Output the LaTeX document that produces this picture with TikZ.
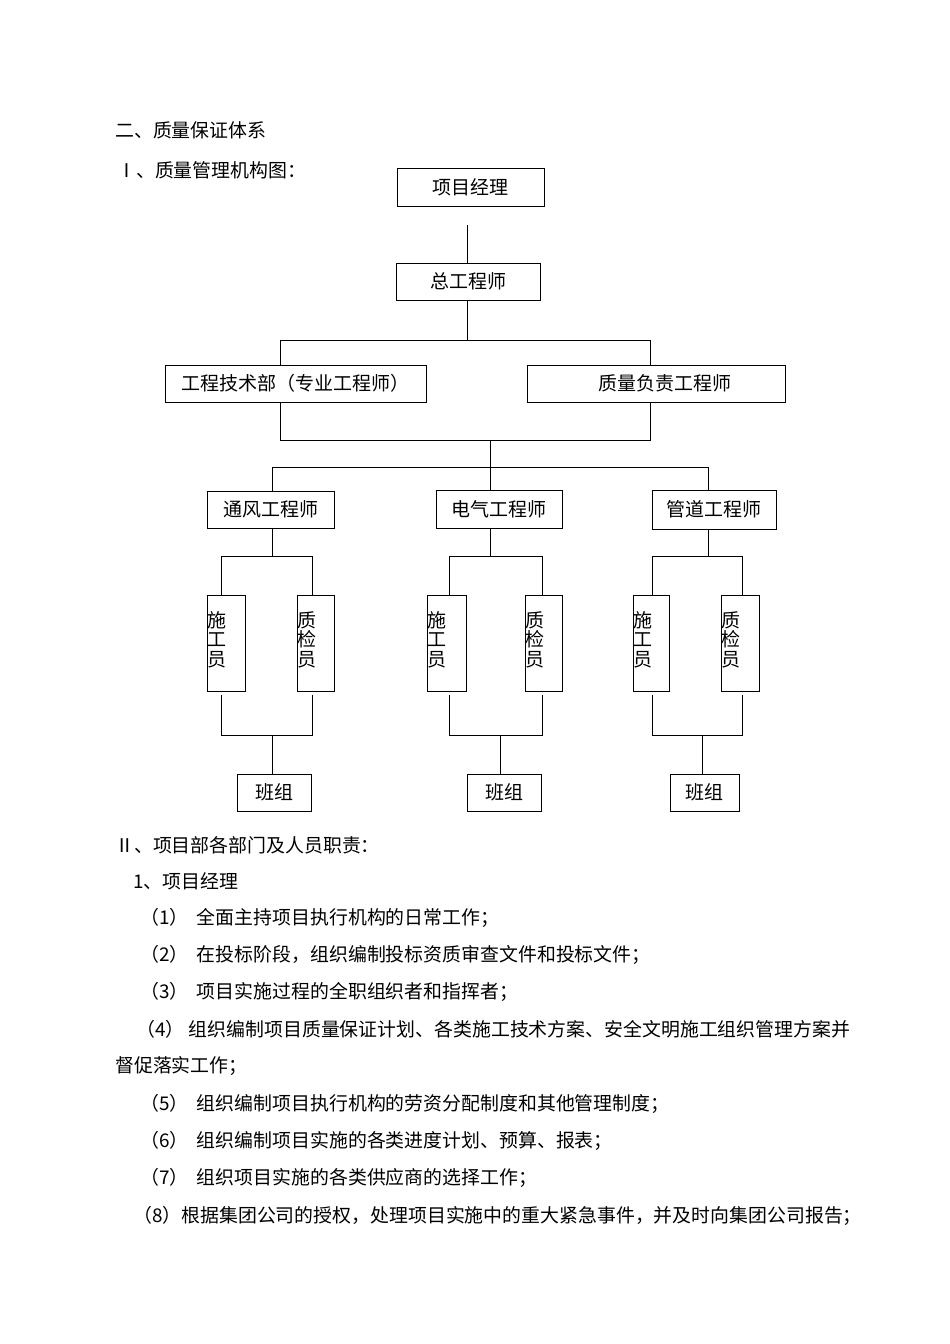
\documentclass[tikz,border=0pt]{standalone}
\usepackage{fontspec}
\newfontfamily\cjk{Noto Sans CJK SC}
\begin{document}
\begin{tikzpicture}[x=1pt,y=-1pt,
  box/.style={draw,line width=1pt,inner sep=0,font=\cjk\fontsize{19}{22}\selectfont},
  ln/.style={line width=1pt},
  txt/.style={anchor=west,inner sep=0,font=\cjk\fontsize{18.9}{22}\selectfont}]
\useasboundingbox[fill=white] (0,0) rectangle (950,1344);
\node[txt] (t1) at (115,130) {二、质量保证体系};
\node[txt] (t2) at (117,170) {Ⅰ、质量管理机构图：};
\newcommand\bx[6]{\node[box,minimum width={#4-#2},minimum height={#5-#3}] (#1) at ({(#2+#4)/2},{(#3+#5)/2}) {#6};}
\bx{pm}{397}{168}{544}{206}{项目经理}
\bx{ce}{396}{263}{540}{300}{总工程师}
\bx{td}{165}{365}{426}{402}{工程技术部（专业工程师）}
\bx{qe}{527}{365}{785}{402}{\hspace{18pt}质量负责工程师}
\bx{ve}{207}{491}{334}{528}{通风工程师}
\bx{ee}{436}{490}{562}{528}{电气工程师}
\bx{pe}{652}{490}{776}{529}{管道工程师}
\newcommand\vt[6]{\node[box,minimum width={#4-#2},minimum height={#5-#3}] (#1) at ({(#2+#4)/2},{(#3+#5)/2}) {};
  \node[inner sep=0,anchor=north west,font=\cjk\fontsize{19}{19.5}\selectfont,align=left] (#1t) at ({#2},{#3+16}) {#6};}
\vt{s1}{207}{595}{245}{691}{施\\工\\员}
\vt{q1}{297}{595}{334}{691}{质\\检\\员}
\vt{s2}{427}{595}{466}{691}{施\\工\\员}
\vt{q2}{525}{595}{562}{691}{质\\检\\员}
\vt{s3}{633}{595}{669}{691}{施\\工\\员}
\vt{q3}{721}{595}{759}{691}{质\\检\\员}
\bx{b1}{237}{774}{311}{811}{班组}
\bx{b2}{467}{774}{541}{811}{班组}
\bx{b3}{670}{774}{739}{811}{班组}
% connectors
\draw[ln] (467,225) -- (ce.north -| 467,0);
\draw[ln] (ce.south -| 467,0) -- (467,340);
\draw[ln] (280,365) |- (650,340) -- (650,365);
\draw[ln] (280,402) |- (650,440) -- (650,402);
\draw[ln] (490,440) -- (490,467);
\draw[ln] (272,491) |- (708,467) -- (708,490);
\draw[ln] (490,467) -- (ee.north -| 490,0);
\draw[ln] (ve.south -| 272,0) -- (272,556);
\draw[ln] (ee.south -| 490,0) -- (490,556);
\draw[ln] (pe.south -| 708,0) -- (708,556);
\foreach \l/\r in {221/312, 449/542, 652/742}{
  \draw[ln] (\l,595) |- (\r,556) -- (\r,595);
  \draw[ln] (\l,695) |- (\r,735) -- (\r,695);
}
\draw[ln] (272,735) -- (b1.north -| 272,0);
\draw[ln] (500,735) -- (b2.north -| 500,0);
\draw[ln] (702,735) -- (b3.north -| 702,0);
\node[txt] at (115,845) {Ⅱ、项目部各部门及人员职责：};
\node[txt] at (133,881) {1、项目经理};
\node[txt] at (140,918) {（1）\ \ 全面主持项目执行机构的日常工作；};
\node[txt] at (140,955) {（2）\ \ 在投标阶段，组织编制投标资质审查文件和投标文件；};
\node[txt] at (140,992) {（3）\ \ 项目实施过程的全职组织者和指挥者；};
\node[txt] at (136,1029) {（4）\ 组织编制项目质量保证计划、各类施工技术方案、安全文明施工组织管理方案并};
\node[txt] at (115,1066) {督促落实工作；};
\node[txt] at (140,1104) {（5）\ \ 组织编制项目执行机构的劳资分配制度和其他管理制度；};
\node[txt] at (140,1141) {（6）\ \ 组织编制项目实施的各类进度计划、预算、报表；};
\node[txt] at (140,1178) {（7）\ \ 组织项目实施的各类供应商的选择工作；};
\node[txt] at (133,1216) {（8）根据集团公司的授权，处理项目实施中的重大紧急事件，并及时向集团公司报告；};
\end{tikzpicture}
\end{document}
